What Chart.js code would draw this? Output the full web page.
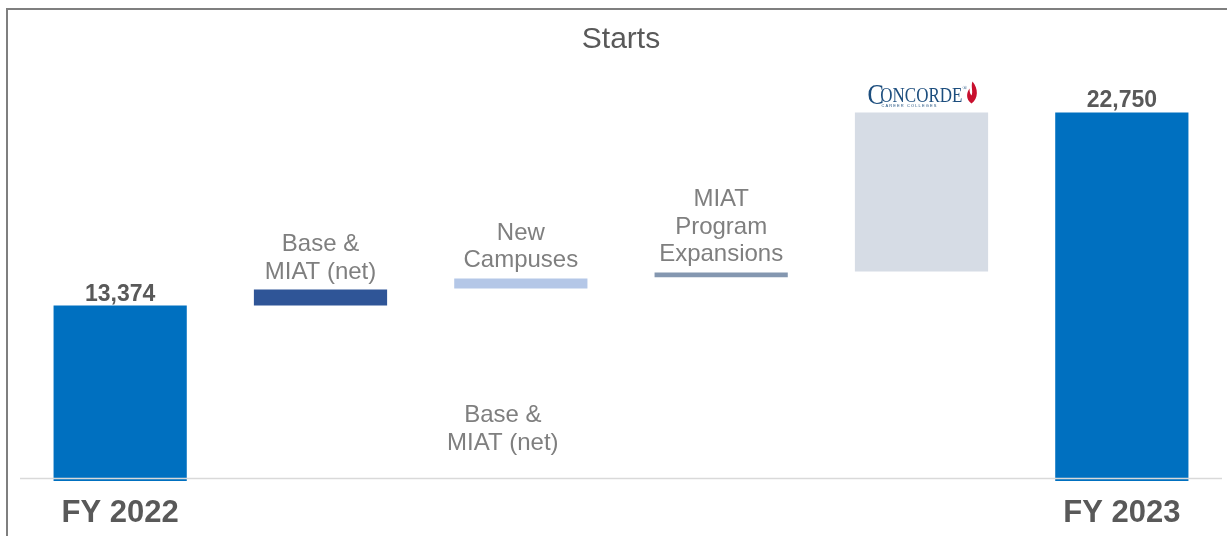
<!DOCTYPE html>
<html>
<head>
<meta charset="utf-8">
<script src="https://cdn.jsdelivr.net/npm/chart.js@4.4.1/dist/chart.umd.min.js"></script>
<style>
  html, body { margin: 0; background: #fff; overflow: hidden; }
  #frame {
    position: absolute; left: 6px; top: 8px; width: 1300px; height: 700px;
    border: 2px solid #7f7f7f; box-sizing: border-box;
  }
  #chart { position: absolute; left: 0; top: 0; }
</style>
</head>
<body>
<div id="frame"></div>
<canvas id="chart" width="1227" height="536"></canvas>
<script>
// --- Starts waterfall: FY 2022 -> FY 2023 ---
const categories = ['FY 2022', 'Base & MIAT (net)', 'New Campuses', 'MIAT Program Expansions', 'Concorde', 'FY 2023'];
// totals are plain values, the steps are [from, to] floating bars
const barValues = [13374, [13374, 14150], [14200, 14690], [14750, 14980], [15030, 22750], 22750];
const barColors = ['#0070c0', '#2f5597', '#b4c7e7', '#8497b0', '#d6dce5', '#0070c0'];
const stepLabels = [[], ['Base &', 'MIAT (net)'], ['New', 'Campuses'], ['MIAT', 'Program', 'Expansions'], [], []];
const axisLabels = ['FY 2022', '', '', '', '', 'FY 2023'];
const totalIdx = [0, 5];
const floorValue = 5000;

const SANS = '"Liberation Sans", Arial, sans-serif';
const SERIF = '"Liberation Serif", "Times New Roman", serif';
const fmt = (n) => Math.round(n).toLocaleString('en-US');

const topOf = (v) => Array.isArray(v) ? Math.max(v[0], v[1]) : v;

// --- labels, baseline, logo ---
const overlay = {
  id: 'overlay',
  afterDatasetsDraw(chart) {
    const { ctx, scales: { x, y }, chartArea } = chart;
    const meta = chart.getDatasetMeta(0);
    ctx.save();

    // baseline drawn over the total bars
    const by = Math.round(y.getPixelForValue(floorValue)) + 0.5;
    ctx.strokeStyle = '#d9d9d9';
    ctx.lineWidth = 1.5;
    ctx.beginPath();
    ctx.moveTo(chartArea.left, by);
    ctx.lineTo(chartArea.right, by);
    ctx.stroke();

    // title
    ctx.fillStyle = '#595959';
    ctx.textAlign = 'center';
    ctx.textBaseline = 'alphabetic';
    ctx.font = `30px ${SANS}`;
    ctx.fillText('Starts', 621, 48);

    // values over the totals
    ctx.font = `bold 23px ${SANS}`;
    totalIdx.forEach(i => {
      const bar = meta.data[i];
      ctx.fillText(fmt(topOf(barValues[i])), bar.x, bar.y - 5);
    });

    // step names above each step bar
    ctx.fillStyle = '#7f7f7f';
    ctx.font = `24px ${SANS}`;
    stepLabels.forEach((lines, i) => {
      if (!lines.length) return;
      const bar = meta.data[i];
      const base = bar.y - 11;
      lines.forEach((t, k) => {
        ctx.fillText(t, bar.x, base - (lines.length - 1 - k) * 27.7);
      });
    });

    // stray copy of the first step name, lower in the plot
    const sx = meta.data[2].x - 18;
    ctx.fillText('Base &', sx, 422);
    ctx.fillText('MIAT (net)', sx, 450);

    // category labels under the totals
    ctx.fillStyle = '#595959';
    ctx.font = `bold 31px ${SANS}`;
    axisLabels.forEach((t, i) => {
      if (t) ctx.fillText(t, x.getPixelForValue(i), 522);
    });

    // Concorde wordmark above its bar
    const c = meta.data[4];
    const lx = c.x, ly = c.y;
    ctx.textAlign = 'left';
    ctx.fillStyle = '#1d4e7e';
    ctx.save();
    ctx.translate(lx - 54, 0);
    ctx.scale(0.85, 1);
    ctx.font = `29px ${SERIF}`;
    ctx.fillText('C', 0, ly - 8.5);
    ctx.font = `20px ${SERIF}`;
    ctx.fillText('ONCORDE', 15, ly - 10.5);
    ctx.restore();
    ctx.font = `6px ${SERIF}`;
    ctx.fillText('®', lx + 41, ly - 22);
    ctx.font = `4px ${SANS}`;
    ctx.fillText('C A R E E R   C O L L E G E S', lx - 40, ly - 5);

    // flame
    const fx = lx + 50, fy = ly - 31;
    ctx.fillStyle = '#c8102e';
    ctx.beginPath();
    ctx.moveTo(fx + 1, fy);
    ctx.bezierCurveTo(fx + 7, fy + 7, fx + 7, fy + 17, fx, fy + 22);
    ctx.bezierCurveTo(fx - 6, fy + 18, fx - 5, fy + 11, fx - 2, fy + 7);
    ctx.bezierCurveTo(fx - 2, fy + 11, fx - 1, fy + 13, fx, fy + 14);
    ctx.bezierCurveTo(fx + 2, fy + 10, fx - 1, fy + 5, fx + 1, fy);
    ctx.fill();

    ctx.restore();
  }
};

new Chart(document.getElementById('chart').getContext('2d'), {
  type: 'bar',
  data: {
    labels: categories,
    datasets: [{
      data: barValues,
      backgroundColor: barColors,
      borderWidth: 0,
      barPercentage: 0.665,
      categoryPercentage: 1
    }]
  },
  options: {
    responsive: false,
    animation: false,
    layout: { padding: { left: 20, right: 5, top: 60, bottom: 55 } },
    plugins: { legend: { display: false }, tooltip: { enabled: false } },
    scales: {
      x: { display: false },
      y: { display: false, min: 4850, max: 25300 }
    }
  },
  plugins: [overlay]
});
</script>
</body>
</html>
